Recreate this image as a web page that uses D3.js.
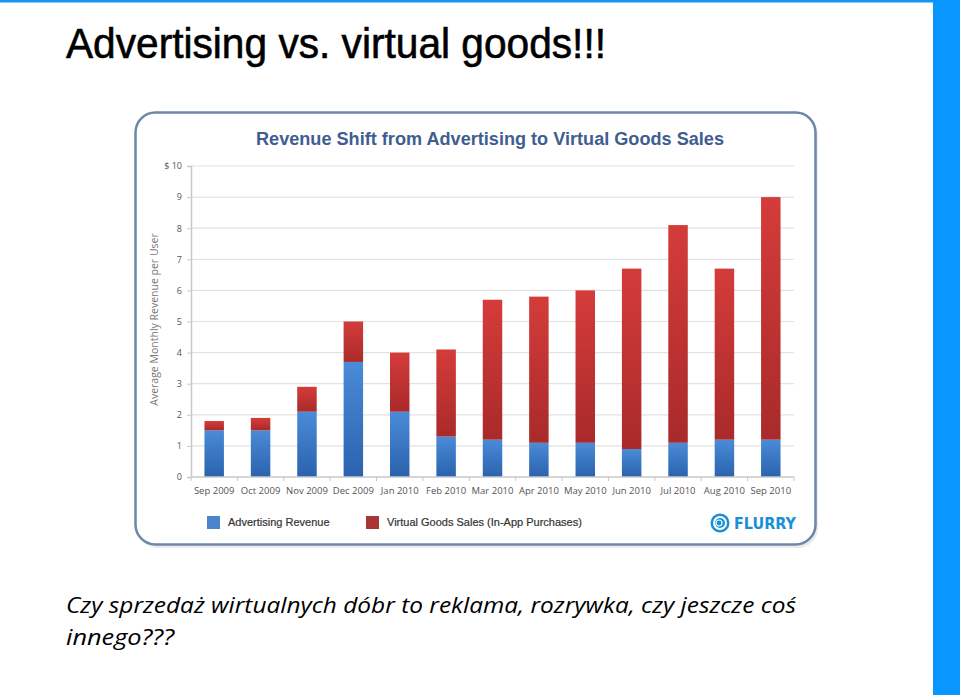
<!DOCTYPE html>
<meta charset="utf-8">
<head>
	<title> Advertising vs. virtual goods </title>
	<style>
		body { margin: 0; background: #fff; }
		svg { display: block; }
	</style>
</head>
<body>
	<div class="container"></div>
</body>

<script src="https://cdnjs.cloudflare.com/ajax/libs/d3/7.8.5/d3.min.js"></script>

<script type="text/javascript">

	// Chart data
	var months = ["Sep 2009", "Oct 2009", "Nov 2009", "Dec 2009", "Jan 2010", "Feb 2010", "Mar 2010",
		"Apr 2010", "May 2010", "Jun 2010", "Jul 2010", "Aug 2010", "Sep 2010"];
	var advertising = [1.5, 1.5, 2.1, 3.7, 2.1, 1.3, 1.2, 1.1, 1.1, 0.9, 1.1, 1.2, 1.2];
	var virtualGoods = [0.3, 0.4, 0.8, 1.3, 1.9, 2.8, 4.5, 4.7, 4.9, 5.8, 7.0, 5.5, 7.8];
	var yTicks = [0, 1, 2, 3, 4, 5, 6, 7, 8, 9, 10];
	var seriesNames = ["Advertising Revenue", "Virtual Goods Sales (In-App Purchases)"];

	var width = 960, height = 695;

	var svg = d3.select(".container").append("svg")
		.attr("width", width)
		.attr("height", height);

	var defs = svg.append("defs");
	function grad(id, top, bottom) {
		var g = defs.append("linearGradient").attr("id", id)
			.attr("x1", 0).attr("y1", 0).attr("x2", 0).attr("y2", 1);
		g.append("stop").attr("offset", "0%").attr("stop-color", top);
		g.append("stop").attr("offset", "100%").attr("stop-color", bottom);
	}
	grad("gBlue", "#4a8bd8", "#2b62ad");
	grad("gRed", "#d43c3a", "#a92a2a");

	// slide decoration
	svg.append("rect").attr("x", 0).attr("y", 0).attr("width", width).attr("height", 2.5).attr("fill", "#1296f0");
	svg.append("rect").attr("x", 933).attr("y", 0).attr("width", 27).attr("height", height).attr("fill", "#0a96ff");

	svg.append("text")
		.attr("x", 66).attr("y", 58)
		.attr("font-family", "Liberation Sans Narrow, Liberation Sans, Arial, sans-serif")
		.attr("font-size", 42)
		.attr("textLength", 540).attr("lengthAdjust", "spacingAndGlyphs")
		.attr("fill", "#000")
		.attr("stroke", "#000").attr("stroke-width", 0.6)
		.text("Advertising vs. virtual goods!!!");

	var caption = svg.append("text")
		.attr("font-family", "Open Sans, DejaVu Sans, sans-serif")
		.attr("font-style", "italic")
		.attr("font-size", 22)
		.attr("fill", "#000");
	caption.append("tspan").attr("x", 66).attr("y", 613)
		.attr("textLength", 730).attr("lengthAdjust", "spacingAndGlyphs")
		.text("Czy sprzedaż wirtualnych dóbr to reklama, rozrywka, czy jeszcze coś");
	caption.append("tspan").attr("x", 66).attr("y", 645)
		.attr("textLength", 108).attr("lengthAdjust", "spacingAndGlyphs")
		.text("innego???");

	// chart frame
	svg.append("rect")
		.attr("x", 136.5).attr("y", 113.5).attr("width", 680).attr("height", 433)
		.attr("rx", 20).attr("ry", 20)
		.attr("fill", "#000").attr("opacity", 0.08)
		.attr("transform", "translate(1.5,1.5)");
	svg.append("rect")
		.attr("x", 135.5).attr("y", 112.5).attr("width", 680).attr("height", 432)
		.attr("rx", 20).attr("ry", 20)
		.attr("fill", "#fff").attr("stroke", "#6d87a8").attr("stroke-width", 2.5);

	svg.append("text")
		.attr("x", 490).attr("y", 145)
		.attr("text-anchor", "middle")
		.attr("font-family", "Liberation Sans Narrow, Liberation Sans, Arial, sans-serif")
		.attr("font-weight", "bold")
		.attr("font-size", 18)
		.attr("textLength", 468).attr("lengthAdjust", "spacingAndGlyphs")
		.attr("fill", "#3f5e8f")
		.text("Revenue Shift from Advertising to Virtual Goods Sales");

	// scales
	var plot = { left: 191, right: 794, top: 166, bottom: 477 };
	var x = d3.scaleBand().domain(months).range([plot.left, plot.right]).paddingInner(0.58).paddingOuter(0.29);
	var y = d3.scaleLinear().domain([0, 10]).range([plot.bottom, plot.top]);

	var g = svg.append("g");

	// gridlines
	g.selectAll("line.grid").data(yTicks.slice(1)).enter().append("line")
		.attr("class", "grid")
		.attr("x1", plot.left).attr("x2", plot.right)
		.attr("y1", function (d) { return y(d); }).attr("y2", function (d) { return y(d); })
		.attr("stroke", "#e2e2e2").attr("stroke-width", 1.2);

	// y axis
	var yAxis = g.append("g")
		.attr("transform", "translate(" + plot.left + ",0)")
		.call(d3.axisLeft(y).tickValues(yTicks).tickSize(4).tickPadding(5)
			.tickFormat(function (d) { return d === 10 ? "$ 10" : d; }));
	yAxis.select(".domain").attr("stroke", "#c8c8c8").attr("stroke-width", 1.5);
	yAxis.selectAll(".tick line").attr("stroke", "#c8c8c8");
	yAxis.selectAll(".tick text")
		.attr("font-family", "Open Sans, Liberation Sans, sans-serif")
		.attr("font-size", 9).attr("fill", "#555");

	// stacked bars
	var stackData = months.map(function (m, i) {
		return { month: m, ad: advertising[i], vg: virtualGoods[i] };
	});
	var stacked = d3.stack().keys(["ad", "vg"])(stackData);
	var fills = ["url(#gBlue)", "url(#gRed)"];

	g.selectAll("g.series").data(stacked).enter().append("g")
		.attr("class", "series")
		.attr("fill", function (d, i) { return fills[i]; })
		.selectAll("rect").data(function (d) { return d; }).enter().append("rect")
		.attr("x", function (d) { return x(d.data.month); })
		.attr("width", x.bandwidth())
		.attr("y", function (d) { return y(d[1]); })
		.attr("height", function (d) { return y(d[0]) - y(d[1]); });

	// x axis with ticks between categories
	g.append("line")
		.attr("x1", plot.left).attr("x2", plot.right)
		.attr("y1", plot.bottom).attr("y2", plot.bottom)
		.attr("stroke", "#c8c8c8").attr("stroke-width", 1.5);
	g.selectAll("line.xtick").data(months.concat(["end"])).enter().append("line")
		.attr("class", "xtick")
		.attr("x1", function (d, i) { return plot.left + i * (plot.right - plot.left) / months.length; })
		.attr("x2", function (d, i) { return plot.left + i * (plot.right - plot.left) / months.length; })
		.attr("y1", plot.bottom).attr("y2", plot.bottom + 4)
		.attr("stroke", "#c8c8c8");
	g.selectAll("text.xlab").data(months).enter().append("text")
		.attr("class", "xlab")
		.attr("x", function (d) { return x(d) + x.bandwidth() / 2; })
		.attr("y", plot.bottom + 17)
		.attr("text-anchor", "middle")
		.attr("font-family", "Open Sans, Liberation Sans, sans-serif")
		.attr("font-size", 9.5).attr("fill", "#555")
		.text(function (d) { return d; });

	// y axis title
	g.append("text")
		.attr("transform", "translate(158," + ((plot.top + plot.bottom) / 2 - 2) + ") rotate(-90)")
		.attr("text-anchor", "middle")
		.attr("font-family", "Open Sans, Liberation Sans, sans-serif")
		.attr("font-size", 10.5).attr("fill", "#777")
		.text("Average Monthly Revenue per User");

	// legend
	var legendX = [207, 366];
	var legendColors = ["#4a85cc", "#a83434"];
	var leg = g.selectAll("g.leg").data(seriesNames).enter().append("g")
		.attr("class", "leg")
		.attr("transform", function (d, i) { return "translate(" + legendX[i] + ",516)"; });
	leg.append("rect").attr("width", 13).attr("height", 13)
		.attr("fill", function (d, i) { return legendColors[i]; });
	leg.append("text").attr("x", 21).attr("y", 10)
		.attr("font-family", "Liberation Sans Narrow, Liberation Sans, Arial, sans-serif")
		.attr("font-size", 11).attr("fill", "#333")
		.attr("stroke", "#333").attr("stroke-width", 0.2)
		.text(function (d) { return d; });

	// flurry logo
	var logo = g.append("g").attr("transform", "translate(720,523)");
	logo.append("circle").attr("r", 9.5).attr("fill", "#1a8fd6");
	logo.append("circle").attr("r", 6).attr("fill", "none").attr("stroke", "#fff").attr("stroke-width", 2);
	logo.append("circle").attr("r", 3).attr("cx", -1).attr("fill", "#1a8fd6").attr("stroke", "#fff").attr("stroke-width", 1.2);
	logo.append("text").attr("x", 14).attr("y", 6)
		.attr("font-family", "DejaVu Sans, sans-serif").attr("font-weight", "bold")
		.attr("font-size", 15).attr("fill", "#1a8fd6")
		.attr("textLength", 62).attr("lengthAdjust", "spacingAndGlyphs")
		.text("FLURRY");

</script>
</html>
